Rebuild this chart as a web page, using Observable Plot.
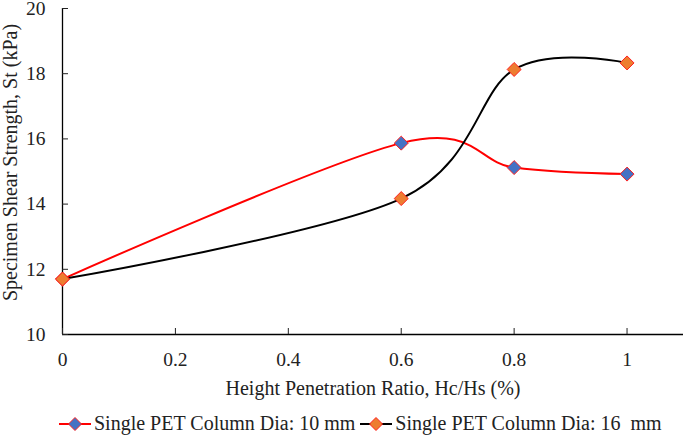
<!DOCTYPE html>
<html>
<head>
<meta charset="utf-8">
<script src="https://cdn.jsdelivr.net/npm/d3@7"></script>
<script src="https://cdn.jsdelivr.net/npm/@observablehq/plot@0.6"></script>
<style>
  body { margin: 0; background: #fff; font-family: 'Liberation Serif', 'Times New Roman', Times, serif; }
  #chart svg { display: block; }
  .legend { display: flex; align-items: center; height: 27px; padding-left: 58px; box-sizing: border-box;
    font-size: 20px; color: #222; }
  .legend .item { display: flex; align-items: center; margin-right: 4px; }
  .legend svg { margin-right: 2px; }
</style>
</head>
<body>
<div id="chart"></div>
<script>
// Height penetration ratio (x) and shear strength values (kPa)
const ratios = [0, 0.6, 0.8, 1];
const dia10 = [11.7, 15.87, 15.12, 14.92];
const dia16 = [11.7, 14.17, 18.13, 18.33];
const seriesNames = ["Single PET Column Dia: 10 mm", "Single PET Column Dia: 16  mm"];
const lineColors = ["#ff0000", "#000000"];
const markerFills = ["#4472c4", "#ed7d31"];
const xTicks = [0, 0.2, 0.4, 0.6, 0.8, 1];
const yTicks = [10, 12, 14, 16, 18, 20];
const xLabel = "Height Penetration Ratio, Hc/Hs (%)";
const yLabel = "Specimen Shear Strength, St (kPa)";

const rows = [];
[dia10, dia16].forEach((vals, s) => {
  vals.forEach((v, i) => rows.push({ series: s, x: ratios[i], y: v }));
});

const font = "'Liberation Serif', 'Times New Roman', Times, serif";

const chart = Plot.plot({
  width: 685,
  height: 410,
  marginLeft: 62,
  marginRight: 2,
  marginTop: 8,
  marginBottom: 76,
  style: `font-family: ${font}; font-size: 19px; color: #222; background: #fff; overflow: visible;`,
  x: { domain: [0, 1.1] },
  y: { domain: [10, 20] },
  marks: [
    Plot.ruleX([0], { stroke: "#000", strokeWidth: 1.3 }),
    Plot.ruleY([10], { stroke: "#000", strokeWidth: 1.3 }),
    Plot.axisX({ ticks: xTicks, tickSize: -6, tickPadding: 24, tickFormat: d => String(d),
      fontFamily: font, fontSize: 19.5, fill: "#222", label: null }),
    Plot.axisY({ ticks: yTicks, tickSize: -6, tickPadding: 23, tickFormat: d => String(d),
      fontFamily: font, fontSize: 19.5, fill: "#222", label: null }),
    Plot.text([xLabel], { frameAnchor: "bottom", dy: 60, fontFamily: font, fontSize: 20, fill: "#222" }),
    Plot.text([yLabel], { frameAnchor: "left", textAnchor: "middle", rotate: -90, dx: -52, dy: -9,
      fontFamily: font, fontSize: 20, fill: "#222" }),
    Plot.line(rows.filter(d => d.series === 0), { x: "x", y: "y", stroke: lineColors[0], strokeWidth: 2, curve: "cardinal", tension: 0 }),
    Plot.line(rows.filter(d => d.series === 1), { x: "x", y: "y", stroke: lineColors[1], strokeWidth: 2, curve: "cardinal", tension: 0 }),
    Plot.dot(rows, { x: "x", y: "y", symbol: "diamond2", r: 6.3, fill: d => markerFills[d.series], stroke: "#ff2020", strokeWidth: 1 })
  ]
});
document.getElementById("chart").append(chart);

// legend below the plot
const legend = document.createElement("div");
legend.className = "legend";
seriesNames.forEach((name, i) => {
  const item = document.createElement("div");
  item.className = "item";
  item.innerHTML = `<svg width="34" height="16"><line x1="1" y1="8" x2="33" y2="8" stroke="${lineColors[i]}" stroke-width="2"/>` +
    `<path d="M17,1.5L23.5,8L17,14.5L10.5,8Z" fill="${markerFills[i]}" stroke="#ff2020" stroke-width="1"/></svg>` +
    `<span style="white-space:pre">${name}</span>`;
  legend.append(item);
});
document.body.append(legend);
</script>
</body>
</html>
